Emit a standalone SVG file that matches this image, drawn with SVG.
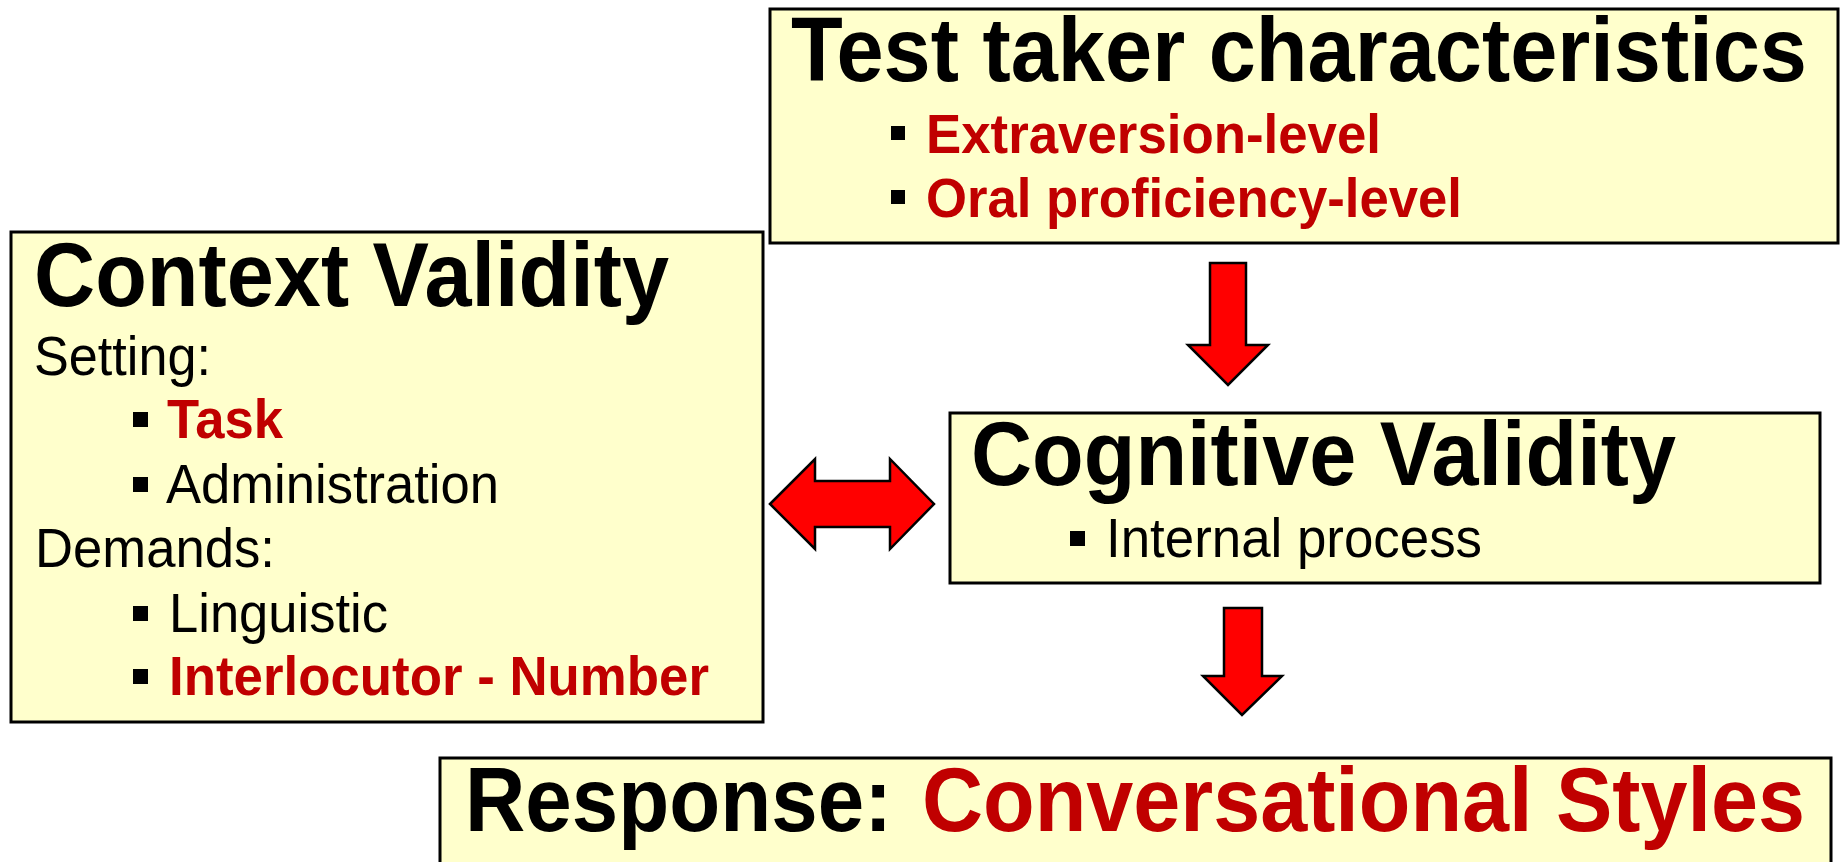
<svg xmlns="http://www.w3.org/2000/svg" width="1844" height="862" viewBox="0 0 1844 862">
<style>
.box{fill:#FFFFCC;stroke:#000;stroke-width:3}
.t{font-family:"Liberation Sans",Arial,sans-serif;font-weight:bold;font-size:90px;fill:#000}
.b{font-family:"Liberation Sans",Arial,sans-serif;font-size:55px;fill:#000}
.bb{font-family:"Liberation Sans",Arial,sans-serif;font-size:55px;font-weight:bold;fill:#C00000}
.red{fill:#C00000}
.sq{fill:#000}
.arr{fill:#FF0000;stroke:#000;stroke-width:2.5;stroke-linejoin:miter}
</style>
<rect width="1844" height="862" fill="#fff"/>
<g id="test-taker">
<rect class="box" x="770" y="9" width="1068" height="234"/>
<text class="t" x="791" y="81" textLength="1016" lengthAdjust="spacingAndGlyphs">Test taker characteristics</text>
<rect class="sq" x="891" y="126" width="14" height="14"/>
<text class="bb" x="926" y="153" textLength="455" lengthAdjust="spacingAndGlyphs">Extraversion-level</text>
<rect class="sq" x="891" y="190" width="14" height="14"/>
<text class="bb" x="926" y="217" textLength="536" lengthAdjust="spacingAndGlyphs">Oral proficiency-level</text>
</g>
<g id="context-validity">
<rect class="box" x="11" y="232" width="752" height="490"/>
<text class="t" x="34" y="306" textLength="635" lengthAdjust="spacingAndGlyphs">Context Validity</text>
<text class="b" x="34" y="375" textLength="177" lengthAdjust="spacingAndGlyphs">Setting:</text>
<rect class="sq" x="133" y="412" width="15" height="15"/>
<text class="bb" x="167" y="438" textLength="116" lengthAdjust="spacingAndGlyphs">Task</text>
<rect class="sq" x="133" y="477" width="15" height="15"/>
<text class="b" x="166" y="503" textLength="333" lengthAdjust="spacingAndGlyphs">Administration</text>
<text class="b" x="35" y="567" textLength="240" lengthAdjust="spacingAndGlyphs">Demands:</text>
<rect class="sq" x="133" y="606" width="15" height="15"/>
<text class="b" x="169" y="632" textLength="219" lengthAdjust="spacingAndGlyphs">Linguistic</text>
<rect class="sq" x="133" y="669" width="15" height="15"/>
<text class="bb" x="169" y="695" textLength="540" lengthAdjust="spacingAndGlyphs">Interlocutor - Number</text>
</g>
<g id="cognitive-validity">
<rect class="box" x="950" y="413" width="870" height="170"/>
<text class="t" x="971" y="485" textLength="705" lengthAdjust="spacingAndGlyphs">Cognitive Validity</text>
<rect class="sq" x="1070" y="531" width="15" height="15"/>
<text class="b" x="1106" y="557" textLength="376" lengthAdjust="spacingAndGlyphs">Internal process</text>
</g>
<g id="response">
<rect class="box" x="440" y="758" width="1391" height="130"/>
<text class="t" x="465" y="831" textLength="427" lengthAdjust="spacingAndGlyphs">Response:</text>
<text class="t red" x="922" y="831" textLength="883" lengthAdjust="spacingAndGlyphs">Conversational Styles</text>
</g>
<g id="connectors">
<polygon class="arr" points="1210,263 1246,263 1246,345 1268,345 1228,385 1188,345 1210,345"/>
<polygon class="arr" points="1224,608 1262,608 1262,676 1282,676 1242,715 1203,676 1224,676"/>
<polygon class="arr" points="770,504 815,459 815,481 890,481 890,459 934,504 890,549 890,527 815,527 815,549"/>
</g>
</svg>
